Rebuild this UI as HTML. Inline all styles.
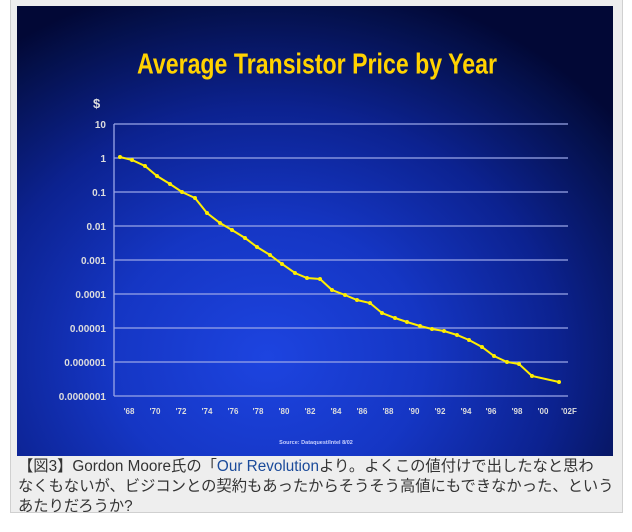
<!DOCTYPE html>
<html><head><meta charset="utf-8"><style>
html,body{margin:0;padding:0;background:#fff;}
body{width:632px;height:532px;position:relative;overflow:hidden;font-family:"Liberation Sans","Noto Sans CJK JP",sans-serif;}
#panel{position:absolute;left:10px;top:0;width:611px;height:512px;background:#eeeeee;border:1px solid #d0d0d0;border-top:none;}
#img{position:absolute;left:17px;top:6px;width:596px;height:450px;background:radial-gradient(ellipse 75% 85% at 42% 78%,#1d44e0 0%,#1536c4 35%,#0c2290 65%,#04104a 92%,#020836 100%);}
#cap{position:absolute;left:18px;top:457px;width:600px;font-size:15.3px;line-height:20px;color:#333;white-space:nowrap;}
#cap a{color:#1a4a9a;text-decoration:none}
</style></head><body>
<div id="panel"></div>
<div id="img"></div>
<svg style="position:absolute;left:0;top:0" width="632" height="532" font-family="Liberation Sans, sans-serif">
<text x="317" y="74" text-anchor="middle" fill="#ffd200" font-size="25" font-weight="bold" transform="scale(1,1.15) translate(0,-10)" textLength="360" lengthAdjust="spacingAndGlyphs">Average Transistor Price by Year</text>
<text x="93" y="108" fill="#ddd" font-size="13" font-weight="bold">$</text>
<g stroke="#9aa6e8" stroke-width="1.3">
<line x1="114" y1="124" x2="568" y2="124"/><line x1="114" y1="158" x2="568" y2="158"/>
<line x1="114" y1="192" x2="568" y2="192"/><line x1="114" y1="226" x2="568" y2="226"/>
<line x1="114" y1="260" x2="568" y2="260"/><line x1="114" y1="294" x2="568" y2="294"/>
<line x1="114" y1="328" x2="568" y2="328"/><line x1="114" y1="362" x2="568" y2="362"/>
<line x1="114" y1="396" x2="568" y2="396"/><line x1="114" y1="124" x2="114" y2="396"/>
</g>
<g fill="#ddd" font-size="10" font-weight="bold" text-anchor="end">
<text x="106" y="128">10</text><text x="106" y="162">1</text><text x="106" y="196">0.1</text>
<text x="106" y="230">0.01</text><text x="106" y="264">0.001</text><text x="106" y="298">0.0001</text>
<text x="106" y="332">0.00001</text><text x="106" y="366">0.000001</text><text x="106" y="400">0.0000001</text>
</g>
<g fill="#ddd" font-size="8" font-weight="bold" text-anchor="middle">
<text x="129" y="414">'68</text><text x="155" y="414">'70</text><text x="181" y="414">'72</text><text x="207" y="414">'74</text><text x="233" y="414">'76</text><text x="258" y="414">'78</text><text x="284" y="414">'80</text><text x="310" y="414">'82</text><text x="336" y="414">'84</text><text x="362" y="414">'86</text><text x="388" y="414">'88</text><text x="414" y="414">'90</text><text x="440" y="414">'92</text><text x="466" y="414">'94</text><text x="491" y="414">'96</text><text x="517" y="414">'98</text><text x="543" y="414">'00</text><text x="569" y="414">'02F</text>
</g>
<text x="316" y="444" text-anchor="middle" fill="#c8d0ff" font-size="5.5" font-weight="bold">Source: Dataquest/Intel 8/02</text>
<polyline fill="none" stroke="#ffee00" stroke-width="2" points="120,157 132,160 145,166 157,176 170,184 182,192 195,198 207,213 220,223 232,230 245,238 257,247 270,255 282,264 295,273 307,278 320,279 332,290 345,295 357,300 370,303 382,313 395,318 407,322 420,326 432,329 444,331 457,335 469,340 482,347 494,356 507,362 519,364 532,376 559,382"/>
<g fill="#ffee00">
<circle cx="120" cy="157" r="2"/><circle cx="132" cy="160" r="2"/><circle cx="145" cy="166" r="2"/><circle cx="157" cy="176" r="2"/><circle cx="170" cy="184" r="2"/><circle cx="182" cy="192" r="2"/><circle cx="195" cy="198" r="2"/><circle cx="207" cy="213" r="2"/><circle cx="220" cy="223" r="2"/><circle cx="232" cy="230" r="2"/><circle cx="245" cy="238" r="2"/><circle cx="257" cy="247" r="2"/><circle cx="270" cy="255" r="2"/><circle cx="282" cy="264" r="2"/><circle cx="295" cy="273" r="2"/><circle cx="307" cy="278" r="2"/><circle cx="320" cy="279" r="2"/><circle cx="332" cy="290" r="2"/><circle cx="345" cy="295" r="2"/><circle cx="357" cy="300" r="2"/><circle cx="370" cy="303" r="2"/><circle cx="382" cy="313" r="2"/><circle cx="395" cy="318" r="2"/><circle cx="407" cy="322" r="2"/><circle cx="420" cy="326" r="2"/><circle cx="432" cy="329" r="2"/><circle cx="444" cy="331" r="2"/><circle cx="457" cy="335" r="2"/><circle cx="469" cy="340" r="2"/><circle cx="482" cy="347" r="2"/><circle cx="494" cy="356" r="2"/><circle cx="507" cy="362" r="2"/><circle cx="519" cy="364" r="2"/><circle cx="532" cy="376" r="2"/><circle cx="559" cy="382" r="2"/>
</g>
</svg>
<div id="cap">【図3】Gordon Moore氏の「<a>Our Revolution</a>より。よくこの値付けで出したなと思わ<br>なくもないが、ビジコンとの契約もあったからそうそう高値にもできなかった、という<br>あたりだろうか?</div>
</body></html>
